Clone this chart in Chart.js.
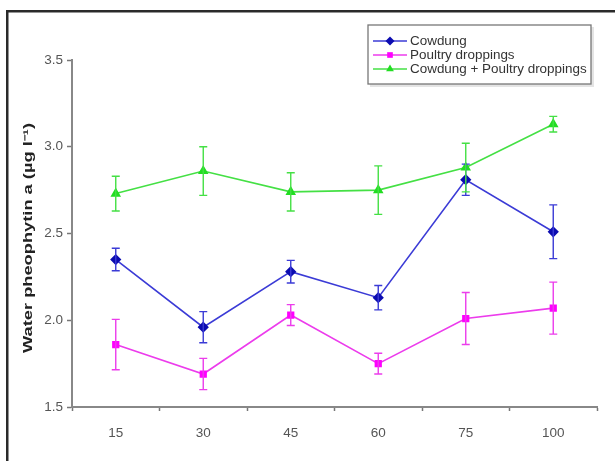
<!DOCTYPE html>
<html>
<head>
<meta charset="utf-8">
<script src="https://cdn.jsdelivr.net/npm/chart.js@4"></script>
<style>
  html, body { margin: 0; padding: 0; background: #fff; }
  #wrap { width: 615px; height: 461px; position: relative; }
</style>
</head>
<body>
<div id="wrap"><canvas id="pheoChart" width="615" height="461"></canvas></div>
<script>
// Dados
const days = ['15', '30', '45', '60', '75', '100'];
const cowdung = [2.35, 1.96, 2.28, 2.13, 2.81, 2.51];
const cowdungErr = [0.065, 0.09, 0.065, 0.07, 0.09, 0.155];
const poultry = [1.86, 1.69, 2.03, 1.75, 2.01, 2.07];
const poultryErr = [0.145, 0.09, 0.06, 0.06, 0.15, 0.15];
const mixed = [2.73, 2.86, 2.74, 2.75, 2.88, 3.13];
const mixedErr = [0.10, 0.14, 0.11, 0.14, 0.14, 0.045];
const yTicks = [1.5, 2.0, 2.5, 3.0, 3.5];
const yTitle = 'Water pheophytin a (µg l⁻¹)';

const seriesStyle = [
    { line: '#3b3bd6', point: '#0c0cb0', shape: 'rectRot', r: 4.5 },
    { line: '#ec3cec', point: '#ff00ff', shape: 'rect', r: 4 },
    { line: '#44e044', point: '#22dd22', shape: 'triangle', r: 4.5 }
];

const makeSet = (label, data, err, s) => ({
    label: label,
    data: data,
    err: err,
    borderColor: s.line,
    backgroundColor: s.point,
    pointBorderColor: s.point,
    pointBackgroundColor: s.point,
    pointStyle: s.shape,
    pointRadius: s.r,
    borderWidth: 1.6,
    tension: 0
});

// Barras de erro
const errorBars = {
    id: 'errorBars',
    afterDatasetsDraw(chart) {
        const ctx = chart.ctx;
        const y = chart.scales.y;
        chart.data.datasets.forEach((ds, i) => {
            const meta = chart.getDatasetMeta(i);
            ctx.save();
            ctx.strokeStyle = ds.borderColor;
            ctx.lineWidth = 1.4;
            meta.data.forEach((pt, j) => {
                const top = y.getPixelForValue(ds.data[j] + ds.err[j]);
                const bot = y.getPixelForValue(ds.data[j] - ds.err[j]);
                ctx.beginPath();
                ctx.moveTo(pt.x, top); ctx.lineTo(pt.x, bot);
                ctx.moveTo(pt.x - 4, top); ctx.lineTo(pt.x + 4, top);
                ctx.moveTo(pt.x - 4, bot); ctx.lineTo(pt.x + 4, bot);
                ctx.stroke();
            });
            ctx.restore();
        });
    }
};

// Moldura, título do eixo y e legenda
const decor = {
    id: 'decor',
    beforeDraw(chart) {
        const ctx = chart.ctx;
        ctx.save();
        ctx.fillStyle = '#fff';
        ctx.fillRect(0, 0, chart.width, chart.height);
        ctx.fillStyle = '#2a2a2a';
        ctx.fillRect(6, 10, 609, 2.5);
        ctx.fillRect(6, 10, 2.5, 451);
        ctx.restore();
    },
    afterDraw(chart) {
        const ctx = chart.ctx;
        // título do eixo y
        ctx.save();
        ctx.translate(29, 238);
        ctx.rotate(-Math.PI / 2);
        ctx.font = 'bold 12px "Liberation Sans", Arial, sans-serif';
        const w = ctx.measureText(yTitle).width;
        ctx.scale(230 / w, 1);
        ctx.fillStyle = '#222';
        ctx.textAlign = 'center';
        ctx.textBaseline = 'middle';
        ctx.fillText(yTitle, 0, 0);
        ctx.restore();

        // legenda
        ctx.save();
        ctx.fillStyle = '#e4e4e4';
        ctx.fillRect(370, 27, 224, 60);
        ctx.fillStyle = '#fff';
        ctx.fillRect(368, 25, 223, 59);
        ctx.strokeStyle = '#777';
        ctx.lineWidth = 1.3;
        ctx.strokeRect(368, 25, 223, 59);
        ctx.font = '12px "Liberation Sans", Arial, sans-serif';
        ctx.textBaseline = 'middle';
        chart.data.datasets.forEach((ds, i) => {
            const ly = 41 + i * 14;
            ctx.strokeStyle = ds.borderColor;
            ctx.lineWidth = 1.6;
            ctx.beginPath();
            ctx.moveTo(373, ly); ctx.lineTo(407, ly);
            ctx.stroke();
            ctx.fillStyle = ds.pointBackgroundColor;
            Chart.helpers.drawPoint(ctx, { pointStyle: ds.pointStyle, radius: ds.pointRadius, borderWidth: 0 }, 390, ly);
            ctx.fillStyle = '#333';
            const tw = ctx.measureText(ds.label).width;
            ctx.save();
            ctx.translate(410, ly + 0.5);
            ctx.scale(1.12, 1);
            ctx.fillText(ds.label, 0, 0);
            ctx.restore();
        });
        ctx.restore();
    }
};

const pheoChart = new Chart(document.getElementById('pheoChart'), {
    type: 'line',
    data: {
        labels: days,
        datasets: [
            makeSet('Cowdung', cowdung, cowdungErr, seriesStyle[0]),
            makeSet('Poultry droppings', poultry, poultryErr, seriesStyle[1]),
            makeSet('Cowdung + Poultry droppings', mixed, mixedErr, seriesStyle[2])
        ]
    },
    options: {
        responsive: false,
        animation: false,
        layout: { padding: { left: 0, top: 60, right: 18, bottom: 0 } },
        plugins: {
            legend: { display: false },
            tooltip: { enabled: false }
        },
        scales: {
            x: {
                offset: true,
                afterFit: (s) => { s.height = 54; },
                grid: {
                    offset: true,
                    drawOnChartArea: false,
                    tickLength: 4,
                    tickColor: '#777',
                    tickWidth: 1.5
                },
                border: { color: '#888', width: 2 },
                ticks: {
                    color: '#555',
                    padding: 14,
                    font: { family: '"Liberation Sans", Arial, sans-serif', size: 13.5 }
                }
            },
            y: {
                min: 1.5,
                max: 3.5,
                afterFit: (s) => { s.width = 72; },
                afterBuildTicks: (s) => { s.ticks = yTicks.map(v => ({ value: v })); },
                grid: {
                    drawOnChartArea: false,
                    tickLength: 5,
                    tickColor: '#777',
                    tickWidth: 1.5
                },
                border: { color: '#888', width: 2 },
                ticks: {
                    color: '#555',
                    padding: 4,
                    font: { family: '"Liberation Sans", Arial, sans-serif', size: 13.5 },
                    callback: (v) => Number(v).toFixed(1)
                }
            }
        }
    },
    plugins: [decor, errorBars]
});
</script>
</body>
</html>
